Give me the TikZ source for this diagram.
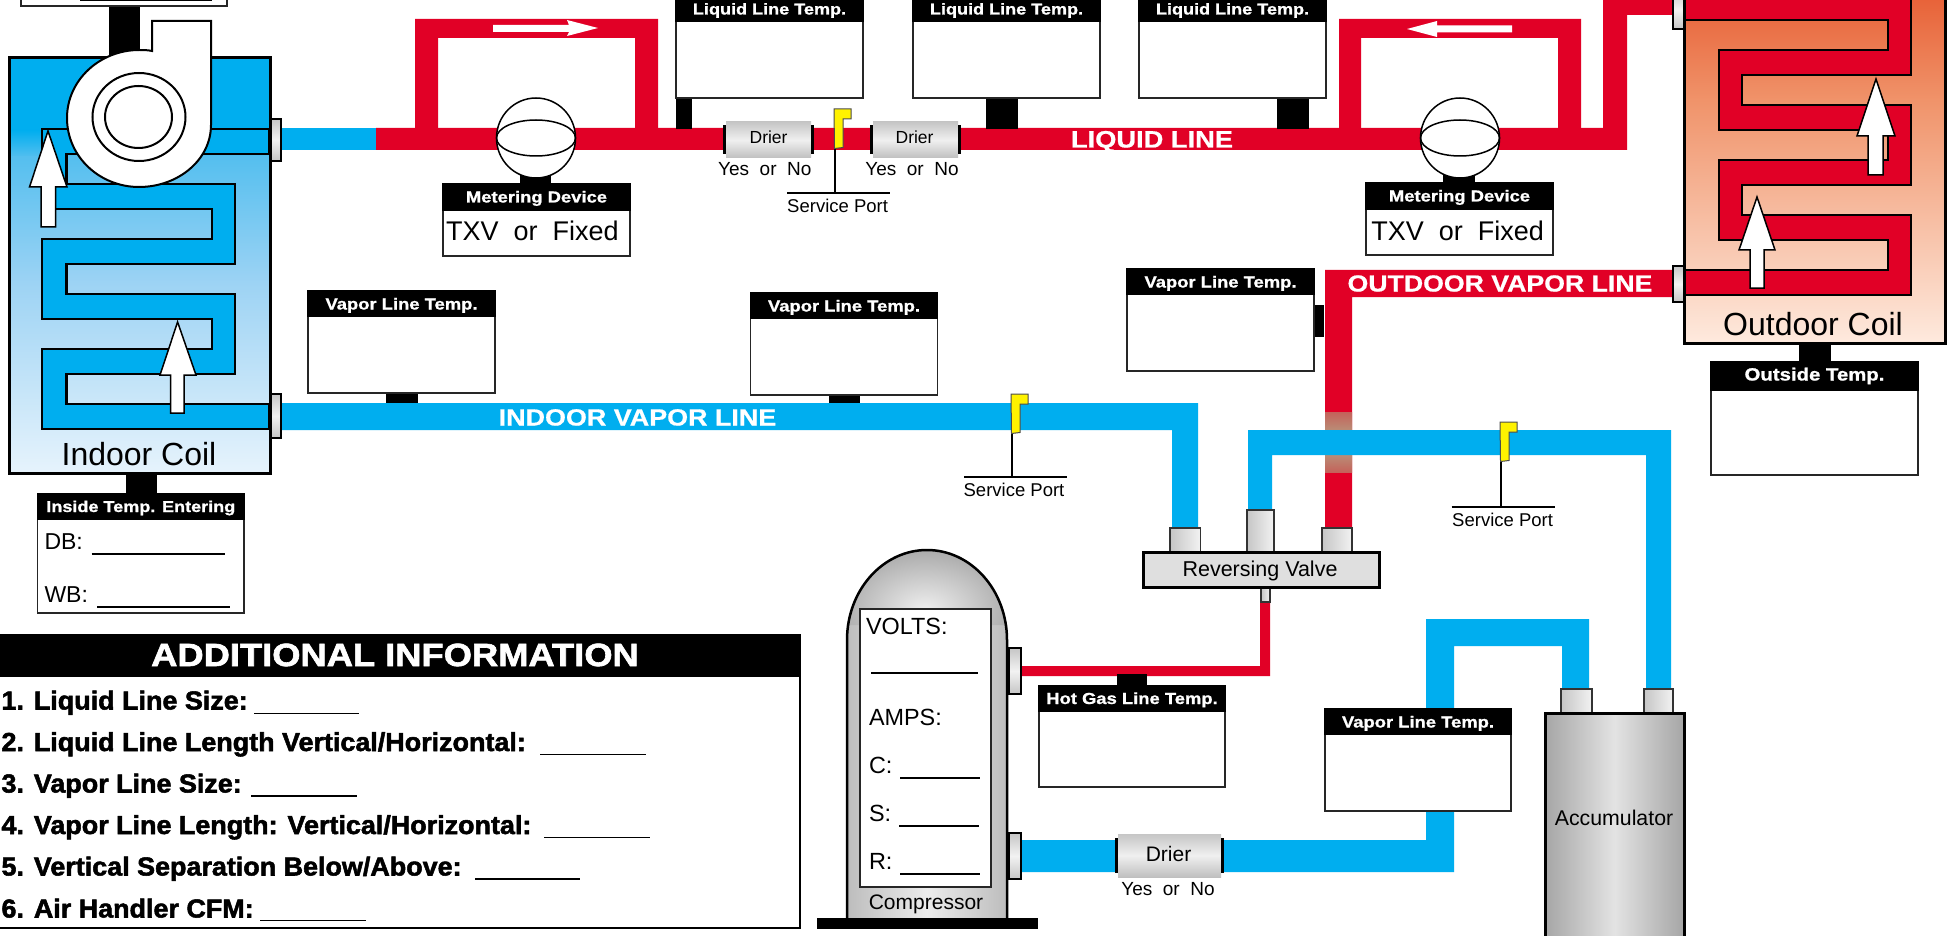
\documentclass[tikz,border=0pt]{standalone}
\usepackage{fontspec}
\setmainfont{Liberation Sans}
\newfontfamily\hdfont[FakeStretch=1.15,FakeBold=1.0]{Liberation Sans}
\newfontfamily\pipefont[FakeStretch=1.15,FakeBold=0.8]{Liberation Sans}
\newfontfamily\titlefont[FakeStretch=1.135,FakeBold=2.0]{Liberation Sans}
\newfontfamily\itemfont[FakeStretch=1.035,FakeBold=2.0]{Liberation Sans}
\definecolor{pred}{HTML}{E10026}
\definecolor{pblue}{HTML}{00AEEF}
\definecolor{flagy}{HTML}{FFF200}
\definecolor{iba}{HTML}{55BFEF}
\definecolor{ibb}{HTML}{9DD3F4}
\definecolor{ibc}{HTML}{E6F3FC}
\definecolor{oca}{HTML}{E65A30}
\definecolor{ocb}{HTML}{F0936A}
\definecolor{occ}{HTML}{FEEADE}
\definecolor{mixa}{HTML}{C4625A}
\definecolor{mixb}{HTML}{B98F78}
\newcommand{\fsz}[1]{\fontsize{#1}{#1}\selectfont}
\tikzset{
  redp/.style={fill=pred},
  bluep/.style={fill=pblue},
  txt/.style={inner sep=0pt,outer sep=0pt,anchor=base,text=black},
  txtl/.style={inner sep=0pt,outer sep=0pt,anchor=base west,text=black},
  hdr/.style={inner sep=0pt,outer sep=0pt,anchor=base,text=white},
  pipelab/.style={inner sep=0pt,outer sep=0pt,anchor=base,text=white},
  stem/.style={fill=black},
  boxline/.style={draw=black!85,line width=1.5pt,fill=white},
  portv/.style={draw=black,line width=2.5pt,top color=gray!45,bottom color=gray!45,middle color=gray!10},
  porth/.style={draw=black!80,line width=1.5pt,left color=gray!45,right color=gray!10},
  driercase/.style={top color=gray!45,bottom color=gray!50,middle color=gray!12},
  warrow/.style={draw=black,line width=1.5pt,fill=white,line join=miter},
  flagshape/.style={fill=flagy,draw=black!70,line width=1pt},
  coilline/.style={draw=black,line width=2.2pt,line join=miter},
  item/.style={inner sep=0pt,outer sep=0pt,anchor=base west,text=black}
}
% name, x1, y1, x2, y2, label, header height, font size
\newcommand{\tempbox}[8]{%
  \pgfmathsetmacro\xm{(#2+#4)/2}%
  \pgfmathsetmacro\yb{#3+18.5}%
  \pgfmathsetmacro\yh{#3+#7}%
  \draw[boxline] (#2,#3) rectangle (#4,#5);
  \fill[black] (#2-0.75,#3-0.75) rectangle (#4+0.75,\yh);
  \node[hdr] (#1) at (\xm,\yb) {\hdfont\bfseries\fsz{#8}#6};
}
% name, stem x, flag top y, bar y, bar x1, bar x2, label x
\newcommand{\serviceport}[7]{%
  \draw[black,line width=1.8pt] (#2,#3+38) -- (#2,#4);
  \draw[black,line width=2pt] (#5,#4) -- (#6,#4);
  \draw[flagshape] (#2-1,#3) -- (#2+16,#3) -- (#2+16,#3+10) -- (#2+8,#3+10) -- (#2+8,#3+38.5) -- (#2-0.5,#3+39.5) -- cycle;
  \node[txt] (#1) at (#7,#4+19.5) {\fsz{18.5}Service Port};
}
\begin{document}
\begin{tikzpicture}[x=1pt,y=-1pt]
\useasboundingbox (0,0) rectangle (1955,936);
\clip (0,0) rectangle (1955,936);
\fill[white] (0,0) rectangle (1955,936);

% ---------- pipes
\fill[bluep] (282,128) rectangle (376,150);
\fill[redp] (376,128) -- (1603,128) -- (1603,-10) -- (1675,-10) -- (1675,15) -- (1627,15) -- (1627,150) -- (376,150) -- cycle;
\fill[redp] (415,130) -- (415,19) -- (658,19) -- (658,130) -- (635,130) -- (635,38) -- (438,38) -- (438,130) -- cycle;
\fill[redp] (1339,130) -- (1339,19) -- (1581,19) -- (1581,130) -- (1558,130) -- (1558,38) -- (1361,38) -- (1361,130) -- cycle;
\fill[redp] (1675,270) -- (1325,270) -- (1325,530) -- (1352,530) -- (1352,297) -- (1675,297) -- cycle;
\shade[top color=mixa,bottom color=mixb] (1325,412) rectangle (1352,431);
\shade[top color=mixb,bottom color=mixa] (1325,454) rectangle (1352,472);
\fill[bluep] (282,403) -- (1198,403) -- (1198,530) -- (1172,530) -- (1172,430) -- (282,430) -- cycle;
\fill[bluep] (1248,512) -- (1248,430) -- (1671,430) -- (1671,691) -- (1646,691) -- (1646,455) -- (1272,455) -- (1272,512) -- cycle;
\fill[bluep] (1021,840) -- (1426,840) -- (1426,619) -- (1589,619) -- (1589,691) -- (1562,691) -- (1562,646) -- (1454,646) -- (1454,872) -- (1021,872) -- cycle;
\fill[redp] (1021,666) -- (1260,666) -- (1260,600) -- (1270,600) -- (1270,676) -- (1021,676) -- cycle;

% ---------- pipe arrows
\fill[white] (493,25) -- (569,25) -- (567,20) -- (598,28) -- (567,36) -- (569,32) -- (493,32) -- cycle;
\fill[white] (1512,25.5) -- (1437,25.5) -- (1437,21) -- (1407,29) -- (1437,37) -- (1437,32.5) -- (1512,32.5) -- cycle;

% ---------- stems
\fill[stem] (108.6,4) rectangle (140,55);
\fill[stem] (676,96) rectangle (691.6,129);
\fill[stem] (986,96) rectangle (1018,129);
\fill[stem] (1277,96) rectangle (1309,129);
\fill[stem] (520,175) rectangle (551,186);
\fill[stem] (1443,175) rectangle (1475,186);
\fill[stem] (386,391) rectangle (418,403);
\fill[stem] (829,393) rectangle (860,403);
\fill[stem] (1313,305) rectangle (1324,337);
\fill[stem] (125.5,471) rectangle (157,495);
\fill[stem] (1799,341) rectangle (1831,364);
\fill[stem] (1117,674) rectangle (1147,687);

% ---------- top-left cut-off box
\draw[boxline] (21,-20) rectangle (227,6);
\draw[black,line width=1.5pt] (80,0.5) -- (212,0.5);

% ---------- indoor coil
\fill[pblue] (9,58) rectangle (270,130.5);
\shade[top color=pblue,bottom color=iba] (9,130) rectangle (270,157.5);
\shade[top color=iba,bottom color=ibb] (9,157) rectangle (270,283.5);
\shade[top color=ibb,bottom color=ibc] (9,283) rectangle (270,473);
\draw[coilline,fill=pblue]
  (269,129) -- (42,129) -- (42,209) -- (211.7,209) -- (211.7,239) -- (42,239) -- (42,319)
  -- (211.7,319) -- (211.7,349) -- (42,349) -- (42,429) -- (269,429) -- (269,404)
  -- (66.5,404) -- (66.5,374) -- (235,374) -- (235,294) -- (66.5,294) -- (66.5,264)
  -- (235,264) -- (235,184) -- (66.5,184) -- (66.5,154) -- (269,154) -- cycle;
\draw[black,line width=3pt] (9,58) rectangle (270,473);
% blower
\draw[draw=black,line width=2pt,fill=white]
  (152,51) -- (152,21) -- (211,21) -- (211,125)
  .. controls (211,160) and (178,187) .. (139,187)
  .. controls (100,187) and (67,157) .. (67,118)
  .. controls (67,80) and (100,50) .. (139,50)
  .. controls (143,50) and (148,50) .. (152,51) -- cycle;
\draw[black,line width=2pt] (139,117) ellipse [x radius=46.5,y radius=44];
\draw[black,line width=2pt] (138.5,117) ellipse [x radius=33.5,y radius=31];
\draw[warrow] (48,131) -- (67,187) -- (55.5,187) -- (55.5,227) -- (41,227) -- (41,187) -- (29.5,187) -- cycle;
\draw[warrow] (177.6,322) -- (196,375) -- (184,375) -- (184,413) -- (170.5,413) -- (170.5,375) -- (160,375) -- cycle;
\draw[portv] (271,119) rectangle (281,161);
\draw[portv] (271,394) rectangle (281,438);
\node[txt] (indoorcoil) at (139,465) {\fsz{32}Indoor Coil};

% ---------- outdoor coil
\shade[top color=oca,bottom color=ocb] (1684,-20) rectangle (1945,100.5);
\shade[top color=ocb,bottom color=occ] (1684,100) rectangle (1945,343);
\draw[coilline,fill=pred]
  (1684.5,-20) -- (1911,-20) -- (1911,75) -- (1742,75) -- (1742,105) -- (1911,105) -- (1911,185)
  -- (1742,185) -- (1742,215) -- (1911,215) -- (1911,295) -- (1684.5,295) -- (1684.5,270)
  -- (1888,270) -- (1888,240) -- (1718.7,240) -- (1718.7,160) -- (1888,160) -- (1888,130)
  -- (1718.7,130) -- (1718.7,50) -- (1888,50) -- (1888,20) -- (1684.5,20) -- cycle;
\draw[black,line width=3pt] (1684,-20) rectangle (1945,343);
\draw[warrow] (1876,79) -- (1895,136) -- (1883,136) -- (1883,175) -- (1868,175) -- (1868,136) -- (1857,136) -- cycle;
\draw[warrow] (1757,197) -- (1775,250) -- (1764,250) -- (1764,288) -- (1750,288) -- (1750,250) -- (1739,250) -- cycle;
\draw[portv] (1673,-10) rectangle (1684,29);
\draw[portv] (1673,266) rectangle (1684,302);
\node[txt] (outdoorcoil) at (1813,335) {\fsz{32}Outdoor Coil};

% ---------- temperature boxes
\tempbox{liq1}{676}{-4}{863}{98}{Liquid Line Temp.}{26}{15.7}
\tempbox{liq2}{913}{-4}{1100}{98}{Liquid Line Temp.}{26}{15.7}
\tempbox{liq3}{1139}{-4}{1326}{98}{Liquid Line Temp.}{26}{15.7}
\tempbox{vap1}{308}{291}{495}{393}{Vapor Line Temp.}{26}{16}
\tempbox{vap2}{750.5}{293}{937.5}{395}{Vapor Line Temp.}{26}{16}
\tempbox{vap3}{1127}{269}{1314}{371}{Vapor Line Temp.}{26}{16}
\tempbox{vap4}{1325}{709}{1511}{811}{Vapor Line Temp.}{26}{16}
\tempbox{hotgas}{1039}{685.5}{1225}{787}{Hot Gas Line Temp.}{26}{16}
\tempbox{meter1}{443}{184}{630}{256}{Metering Device}{27}{16}
\tempbox{meter2}{1366}{183}{1553}{255}{Metering Device}{27}{16}
\tempbox{outside}{1711}{362}{1918}{475}{Outside Temp.}{29}{17.7}
\tempbox{inside}{37.6}{493.5}{244}{613}{Inside Temp. Entering}{26}{15.7}
\node[txt] (txv1) at (532.4,240.5) {\fsz{27}TXV~~or~~Fixed};
\node[txt] (txv2) at (1457.6,240.5) {\fsz{27}TXV~~or~~Fixed};

% ---------- metering spheres
\draw[black,line width=1.5pt,fill=white] (536,138) ellipse [x radius=39.5,y radius=40];
\draw[black,line width=1.5pt] (536,138) ellipse [x radius=39.5,y radius=18];
\draw[black,line width=1.5pt,fill=white] (1460,138) ellipse [x radius=39.5,y radius=40];
\draw[black,line width=1.5pt] (1460,138) ellipse [x radius=39.5,y radius=18];

% ---------- driers
\shade[driercase] (726,122) rectangle (811,158);
\fill[black] (723,125) rectangle (726,154);
\fill[black] (811,125) rectangle (814,154);
\node[txt] (drier1) at (768.6,144) {\fsz{17.5}Drier};
\node[txt] (yn1) at (764.8,176) {\fsz{19}Yes~~or~~No};
\shade[driercase] (873,122) rectangle (958,158);
\fill[black] (870,125) rectangle (873,154);
\fill[black] (958,125) rectangle (961,154);
\node[txt] (drier2) at (914.6,144) {\fsz{17.5}Drier};
\node[txt] (yn2) at (912,176) {\fsz{19}Yes~~or~~No};
\shade[driercase] (1118,834) rectangle (1221,877);
\fill[black] (1114.6,838) rectangle (1118,873);
\fill[black] (1221,838) rectangle (1224.4,873);
\node[txt] (drier3) at (1168.5,861) {\fsz{21}Drier};
\node[txt] (yn3) at (1168,895) {\fsz{19}Yes~~or~~No};

% ---------- service ports
\serviceport{sp1}{835}{109}{193}{787}{890}{837.6}
\serviceport{sp2}{1012}{394}{477}{964}{1067}{1014}
\serviceport{sp3}{1501}{422}{507}{1451.5}{1555}{1502.6}

% ---------- pipe labels
\node[pipelab] (ll) at (1152,147.5) {\pipefont\bfseries\fsz{23.7}LIQUID LINE};
\node[pipelab] (ivl) at (637.5,425.5) {\pipefont\bfseries\fsz{23.4}INDOOR VAPOR LINE};
\node[pipelab] (ovl) at (1500,291.5) {\pipefont\bfseries\fsz{23.2}OUTDOOR VAPOR LINE};

% ---------- reversing valve
\draw[porth] (1170,528) rectangle (1200.5,552);
\draw[porth] (1247,510) rectangle (1274,552);
\draw[porth] (1322,528) rectangle (1352,552);
\draw[porth] (1261,587) rectangle (1270,602);
\draw[black,line width=3pt,fill=gray!25] (1143,552) rectangle (1379,587);
\node[txt] (rv) at (1260,576) {\fsz{21.5}Reversing Valve};

% ---------- compressor
\shade[left color=gray!52,right color=gray!52,middle color=gray!15] (847,625) rectangle (1007,918);
\begin{scope}
  \clip (847,625) -- (847,640) .. controls (847,590) and (883,550) .. (927,550) .. controls (971,550) and (1007,590) .. (1007,640) -- (1007,625) -- cycle;
  \shade[shading=radial,inner color=gray!12,outer color=gray!68] (925,610) ellipse [x radius=90,y radius=62];
\end{scope}
\draw[black,line width=2.5pt] (847,918) -- (847,640) .. controls (847,590) and (883,550) .. (927,550) .. controls (971,550) and (1007,590) .. (1007,640) -- (1007,918);
\fill[black] (817,918) rectangle (1038,929);
\draw[boxline] (860,609) rectangle (991,887);
\draw[portv] (1009,648) rectangle (1021,694);
\draw[portv] (1009,833) rectangle (1021,879);
\node[txtl] (volts) at (866,634.5) {\fsz{23.4}VOLTS:};
\node[txtl] (amps) at (869,725.8) {\fsz{23.4}AMPS:};
\node[txtl] (cc) at (869,773) {\fsz{23.4}C:};
\node[txtl] (ss) at (869,821) {\fsz{23.4}S:};
\node[txtl] (rr) at (869,869.4) {\fsz{23.4}R:};
\draw[black,line width=1.8pt] (871,673) -- (978,673);
\draw[black,line width=1.8pt] (900,778) -- (980,778);
\draw[black,line width=1.8pt] (899,826) -- (979,826);
\draw[black,line width=1.8pt] (900,874) -- (980,874);
\node[txt] (comp) at (926,909) {\fsz{21}Compressor};

% ---------- accumulator
\draw[porth] (1561,689) rectangle (1592,713);
\draw[porth] (1644,689) rectangle (1673,713);
\shade[left color=gray!70,right color=gray!70,middle color=gray!22] (1545,713) rectangle (1684,945);
\draw[black,line width=3pt] (1545,945) -- (1545,713) -- (1684,713) -- (1684,945);
\node[txt] (acc) at (1614,825.6) {\fsz{21.3}Accumulator};

% ---------- DB / WB
\node[txtl] (db) at (44.5,549.3) {\fsz{23}DB:};
\node[txtl] (wb) at (44.5,602.5) {\fsz{23}WB:};
\draw[black,line width=1.8pt] (91.5,554) -- (225,554);
\draw[black,line width=1.8pt] (97,607) -- (230,607);

% ---------- additional information
\draw[black,line width=2.5pt,fill=white] (-5,635) rectangle (800,928);
\fill[black] (-5,634) rectangle (800,677);
\node[hdr] (addl) at (395,666) {\titlefont\bfseries\fsz{32}ADDITIONAL INFORMATION};
\node[item] (i1) at (1.5,709.5) {\itemfont\bfseries\fsz{26}1. Liquid Line Size:};
\node[item] (i2) at (1.5,751) {\itemfont\bfseries\fsz{26}2. Liquid Line Length Vertical/Horizontal:};
\node[item] (i3) at (1.5,792.5) {\itemfont\bfseries\fsz{26}3. Vapor Line Size:};
\node[item] (i4) at (1.5,834) {\itemfont\bfseries\fsz{26}4. Vapor Line Length: Vertical/Horizontal:};
\node[item] (i5) at (1.5,875.5) {\itemfont\bfseries\fsz{26}5. Vertical Separation Below/Above:};
\node[item] (i6) at (1.5,917.5) {\itemfont\bfseries\fsz{26}6. Air Handler CFM:};
\draw[black,line width=1.5pt] (254,713.3) -- (359,713.3);
\draw[black,line width=1.5pt] (540,754.5) -- (646,754.5);
\draw[black,line width=1.5pt] (251,796) -- (357,796);
\draw[black,line width=1.5pt] (544,837.5) -- (650,837.5);
\draw[black,line width=1.5pt] (475,879) -- (580,879);
\draw[black,line width=1.5pt] (260,920.7) -- (366,920.7);
\end{tikzpicture}
\end{document}
